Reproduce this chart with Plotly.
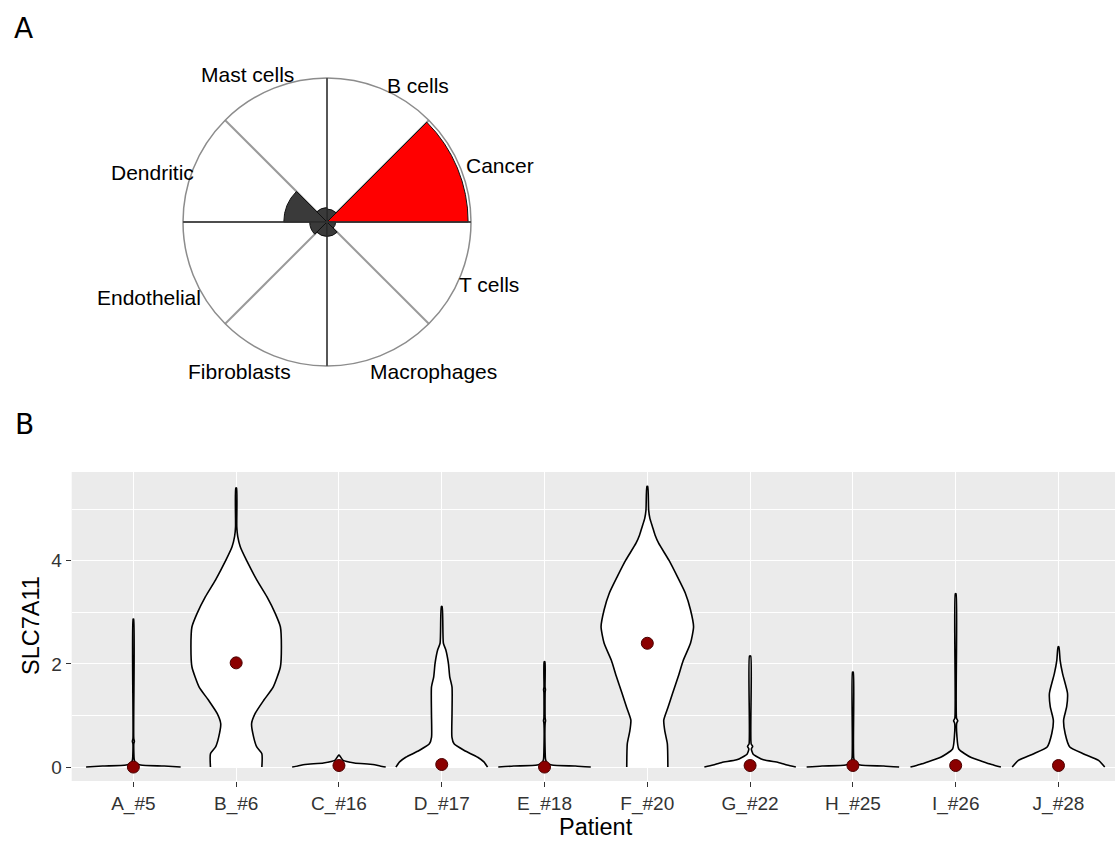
import plotly.graph_objects as go

# ---------------- Panel A data ----------------
cell_types = ["Cancer", "B cells", "Mast cells", "Dendritic",
              "Endothelial", "Fibroblasts", "Macrophages", "T cells"]
cell_values = [0.98, 0.09, 0.10, 0.30, 0.12, 0.10, 0.10, 0.06]
cell_colors = ["#FF0000", "#3a3a3a", "#3a3a3a", "#3a3a3a",
               "#3a3a3a", "#3a3a3a", "#3a3a3a", "#3a3a3a"]

# ---------------- Panel B data ----------------
patients = ["A_#5", "B_#6", "C_#16", "D_#17", "E_#18",
            "F_#20", "G_#22", "H_#25", "I_#26", "J_#28"]
means = [0.0, 2.02, 0.03, 0.05, 0.0, 2.40, 0.03, 0.03, 0.03, 0.03]

# violin profiles: expression level and half-width (density)
prof_A_y = [0, 0.02, 0.04, 0.08, 0.15, 0.45, 0.5, 0.55, 2.87]
prof_A_w = [0.46, 0.30, 0.07, 0.02, 0.008, 0.004, 0.01, 0.004, 0.003]
prof_B_y = [0, 0.26, 0.39, 0.58, 0.84, 1.04, 1.30, 1.55, 1.94, 2.33, 2.72, 2.98,
            3.30, 3.63, 4.01, 4.27, 4.47, 4.66, 5.41]
prof_B_w = [0.25, 0.25, 0.20, 0.17, 0.15, 0.185, 0.27, 0.36, 0.43, 0.44, 0.43, 0.38,
            0.30, 0.20, 0.10, 0.04, 0.015, 0.006, 0.004]
prof_C_y = [0, 0.02, 0.05, 0.08, 0.13, 0.23]
prof_C_w = [0.455, 0.40, 0.33, 0.15, 0.04, 0.004]
prof_D_y = [0, 0.10, 0.19, 0.32, 0.45, 0.58, 1.04, 1.55, 1.75, 2.01, 2.27, 2.40, 3.11]
prof_D_w = [0.446, 0.41, 0.35, 0.22, 0.12, 0.099, 0.10, 0.10, 0.078, 0.065, 0.04, 0.016, 0.004]
prof_E_y = [0, 0.02, 0.04, 0.08, 0.15, 0.3, 0.85, 0.9, 0.95, 1.45, 1.5, 1.55, 2.04]
prof_E_w = [0.45, 0.30, 0.07, 0.025, 0.01, 0.006, 0.006, 0.01, 0.006, 0.006, 0.009, 0.005, 0.004]
prof_F_y = [0, 0.45, 0.70, 0.91, 1.15, 1.43, 1.75, 2.07, 2.40, 2.72, 3.05, 3.37,
            3.70, 4.01, 4.34, 4.50, 4.66, 4.82, 4.98, 5.44]
prof_F_w = [0.20, 0.195, 0.17, 0.16, 0.20, 0.246, 0.30, 0.35, 0.42, 0.45, 0.42, 0.37,
            0.29, 0.21, 0.11, 0.075, 0.05, 0.025, 0.013, 0.004]
prof_G_y = [0, 0.04, 0.09, 0.14, 0.25, 0.35, 0.40, 0.45, 2.15]
prof_G_w = [0.445, 0.36, 0.275, 0.13, 0.03, 0.012, 0.025, 0.01, 0.006]
prof_H_y = [0, 0.02, 0.04, 0.08, 0.18, 1.84]
prof_H_w = [0.45, 0.30, 0.07, 0.025, 0.008, 0.004]
prof_I_y = [0, 0.05, 0.11, 0.19, 0.35, 0.6, 0.85, 0.9, 0.95, 3.36]
prof_I_w = [0.44, 0.35, 0.26, 0.146, 0.03, 0.012, 0.01, 0.02, 0.008, 0.004]
prof_J_y = [0, 0.13, 0.26, 0.39, 0.65, 0.91, 1.17, 1.43, 1.81, 2.07, 2.33]
prof_J_w = [0.45, 0.39, 0.24, 0.11, 0.065, 0.05, 0.08, 0.088, 0.04, 0.016, 0.004]

profiles_y = [prof_A_y, prof_B_y, prof_C_y, prof_D_y, prof_E_y,
              prof_F_y, prof_G_y, prof_H_y, prof_I_y, prof_J_y]
profiles_w = [prof_A_w, prof_B_w, prof_C_w, prof_D_w, prof_E_w,
              prof_F_w, prof_G_w, prof_H_w, prof_I_w, prof_J_w]

W, H = 1115, 841
FONT = "Arial, Liberation Sans, sans-serif"


def px(x):
    return x / W


def py(y):
    return 1 - y / H


fig = go.Figure()

# ---------------- Panel A: polar rose ----------------
sector = 360 / len(cell_types)
thetas = [sector / 2 + sector * k for k in range(len(cell_types))]
fig.add_trace(go.Barpolar(
    r=cell_values, theta=thetas, width=[sector] * len(cell_types),
    marker=dict(color=cell_colors, line=dict(color="#111111", width=1)),
    subplot="polar", showlegend=False, hoverinfo="skip"))
fig.add_trace(go.Scatterpolar(
    r=[1, 0, 1], theta=[0, 0, 180], mode="lines",
    line=dict(color="#333333", width=1.3), subplot="polar",
    showlegend=False, hoverinfo="skip"))
fig.add_trace(go.Scatterpolar(
    r=[1, 0, 1], theta=[90, 90, 270], mode="lines",
    line=dict(color="#333333", width=1.3), subplot="polar",
    showlegend=False, hoverinfo="skip"))

# ---------------- Panel B: violins ----------------
for i, (ys, ws) in enumerate(zip(profiles_y, profiles_w)):
    xs = [i - w for w in ws] + [i + w for w in ws[::-1]]
    yy = list(ys) + list(ys[::-1])
    fig.add_trace(go.Scatter(
        x=xs, y=yy, mode="lines", fill="toself", fillcolor="white",
        line=dict(color="black", width=1.6, shape="spline", smoothing=0.55),
        xaxis="x", yaxis="y", showlegend=False, hoverinfo="skip"))

fig.add_trace(go.Scatter(
    x=list(range(len(patients))), y=means, mode="markers",
    marker=dict(size=12, color="#8B0000", line=dict(color="#4a0000", width=1)),
    xaxis="x", yaxis="y", showlegend=False, hoverinfo="skip"))

fig.update_layout(
    width=W, height=H,
    margin=dict(l=0, r=0, t=0, b=0),
    paper_bgcolor="white",
    plot_bgcolor="#EBEBEB",
    font=dict(family=FONT, color="#222222"),
    polar=dict(
        domain=dict(x=[px(183), px(471)], y=[py(366), py(78)]),
        bgcolor="white",
        angularaxis=dict(
            tickmode="array", tickvals=[0, 45, 90, 135, 180, 225, 270, 315],
            showticklabels=False, ticks="", showgrid=True,
            gridcolor="#9a9a9a", gridwidth=1.5,
            showline=True, linecolor="#8c8c8c", linewidth=1.5,
            layer="below traces", rotation=0, direction="counterclockwise"),
        radialaxis=dict(
            range=[0, 1], showgrid=False, showticklabels=False,
            showline=False, ticks="", layer="below traces"),
    ),
    xaxis=dict(
        domain=[px(71.7), 1], range=[-0.6, 9.55],
        tickmode="array", tickvals=list(range(len(patients))), ticktext=patients,
        showgrid=True, gridcolor="white", gridwidth=1.4, zeroline=False,
        ticks="outside", ticklen=5, tickwidth=1, tickcolor="#333333",
        tickfont=dict(size=19, color="#333333", family=FONT), showline=False),
    yaxis=dict(
        domain=[py(781), py(472)], range=[-0.27, 5.72],
        tickmode="array", tickvals=[0, 2, 4],
        showgrid=True, gridcolor="white", gridwidth=1.4, zeroline=False,
        ticks="outside", ticklen=5, tickwidth=1, tickcolor="#333333",
        tickfont=dict(size=19, color="#333333", family=FONT), showline=False,
        minor=dict(tickvals=[1, 3, 5], showgrid=True, gridcolor="white",
                   gridwidth=0.7, ticks="")),
)

annotations = []
# panel letters
annotations.append(dict(text="A", x=px(23), y=py(28), xref="paper", yref="paper",
                        showarrow=False, xanchor="center", yanchor="middle",
                        font=dict(family="DejaVu Sans", size=28, color="black")))
annotations.append(dict(text="B", x=px(24), y=py(425), xref="paper", yref="paper",
                        showarrow=False, xanchor="center", yanchor="middle",
                        font=dict(family="DejaVu Sans", size=28, color="black")))
# rose labels
label_pos = {
    "Mast cells": (247.5, 73), "B cells": (418, 84), "Cancer": (500, 165),
    "Dendritic": (152, 171), "Endothelial": (148.5, 296),
    "Fibroblasts": (239.5, 370), "Macrophages": (433.5, 370), "T cells": (489, 283),
}
for name in cell_types:
    lx, ly = label_pos[name]
    annotations.append(dict(text=name, x=px(lx), y=py(ly + 1), xref="paper", yref="paper",
                            showarrow=False, xanchor="center", yanchor="middle",
                            font=dict(family=FONT, size=21, color="black")))
# axis titles
annotations.append(dict(text="SLC7A11", x=px(31), y=py(626), xref="paper", yref="paper",
                        showarrow=False, textangle=-90, xanchor="center", yanchor="middle",
                        font=dict(family=FONT, size=23.5, color="black")))
annotations.append(dict(text="Patient", x=px(596), y=py(827), xref="paper", yref="paper",
                        showarrow=False, xanchor="center", yanchor="middle",
                        font=dict(family=FONT, size=23.5, color="black")))
fig.update_layout(annotations=annotations)

fig.write_html(
    "out.html",
    config={"displayModeBar": False},
    post_script="document.body.style.margin='0px';document.body.style.padding='0px';",
)
